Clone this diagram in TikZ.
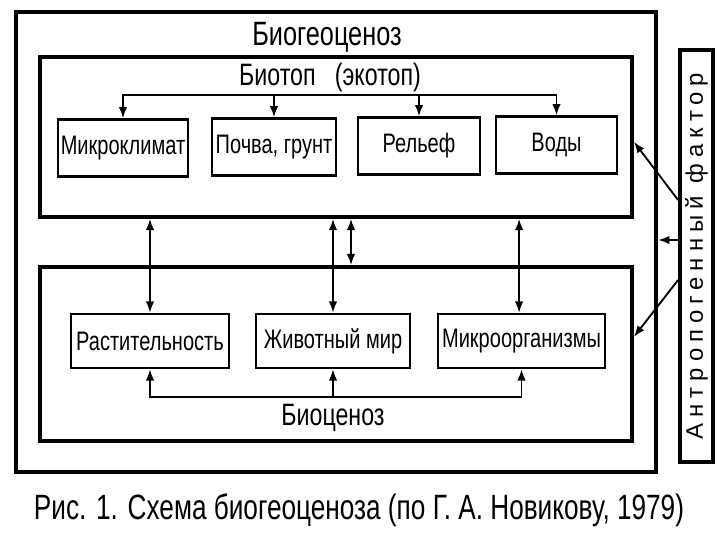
\documentclass[tikz,border=0pt]{standalone}
\usepackage{fontspec}
\setmainfont{Liberation Sans}
\newfontfamily\uzk[FakeStretch=0.75]{Liberation Sans}
\newfontfamily\razr[LetterSpace=25]{Liberation Sans}
\usetikzlibrary{positioning, calc, arrows.meta}

\tikzset{
  ramka/.style={draw, line width=2.6pt, inner sep=0pt},
  blok/.style={draw, line width=1.8pt, minimum height=1.42cm, inner sep=0pt, font=\uzk\fontsize{19}{21}\selectfont},
  strelka/.style={line width=1.3pt},
  >={Latex[length=8pt,width=6pt]}
}

\begin{document}
\begin{tikzpicture}[x=0.025cm,y=-0.025cm]
\useasboundingbox (0,0) rectangle (720,540);
        \node[ramka, line width=3pt, minimum width=16cm, minimum height=11.5cm] (bg) at (336,242) {};
        \node[ramka, minimum width=14.8cm, minimum height=4cm] (bt) at (336,137) {};
        \node[ramka, minimum width=14.8cm, minimum height=4.35cm] (bc) at (336,354) {};
        \node[ramka, minimum width=0.83cm, minimum height=10.3cm] (ant) at (696.5,256) {};
        \node[rotate=90, inner sep=0pt, font=\razr\fontsize{17}{19}\selectfont] (antt) at (ant.center) {Антропогенный фактор};

        \node[font=\uzk\fontsize{24}{26}\selectfont] (t1) at (327,37) {Биогеоценоз};
        \node[font=\uzk\fontsize{22}{24}\selectfont] (t2) at (330,77) {Биотоп\ \ \ (экотоп)};
        \node[font=\uzk\fontsize{22}{24}\selectfont] (t3) at (333,418) {Биоценоз};

        \node[blok, minimum width=3.25cm] (mk) at (123,148) {Микроклимат};
        \node[blok, minimum width=3.1cm] (pg) at (274,147) {Почва, грунт};
        \node[blok, minimum width=3.05cm] (rl) at (419,146) {Рельеф};
        \node[blok, minimum width=3.03cm] (vd) at (556.5,145) {Воды};

        \node[blok, minimum width=3.95cm, minimum height=1.35cm] (rs) at (150,341) {Растительность};
        \node[blok, minimum width=3.85cm, minimum height=1.35cm] (zm) at (333,341) {Животный мир};
        \node[blok, minimum width=4.18cm, minimum height=1.35cm] (mo) at (521.5,341) {Микроорганизмы};

        \coordinate (verh) at (0,95);
        \coordinate (niz) at (0,397);
        \draw[strelka, <->] (mk.north) -- (mk.north |- verh) -| (vd.north);
        \draw[strelka, ->] (pg.north |- verh) -- (pg.north);
        \draw[strelka, ->] (rl.north |- verh) -- (rl.north);

        \draw[strelka, <->] (rs.south) -- (rs.south |- niz) -| (mo.south);
        \draw[strelka, ->] (zm.south |- niz) -- (zm.south);

        \draw[strelka, <->] (rs.north |- bt.south) -- (rs.north);
        \draw[strelka, <->] (zm.north |- bt.south) -- (zm.north);
        \draw[strelka, <->] ([xshift=0.45cm]zm.north |- bt.south) -- ([xshift=0.45cm]zm.north |- bc.north);
        \draw[strelka, <->] ([xshift=-0.06cm]mo.north |- bt.south) -- ([xshift=-0.06cm]mo.north);

        \draw[strelka, ->] ([yshift=1.4cm]ant.west) -- ([yshift=-0.12cm]bt.east);
        \draw[strelka, ->] ([yshift=0.4cm]ant.west) -- ([yshift=0.4cm]ant.west -| bg.east);
        \draw[strelka, ->] ([yshift=-0.6cm]ant.west) -- ([yshift=0.43cm]bc.east);

        \node (cap) at (359,510) {\fontsize{25}{30}\selectfont\scalebox{0.745}[1]{Рис. 1. Схема биогеоценоза (по Г. А. Новикову, 1979)}};
\end{tikzpicture}
\end{document}
